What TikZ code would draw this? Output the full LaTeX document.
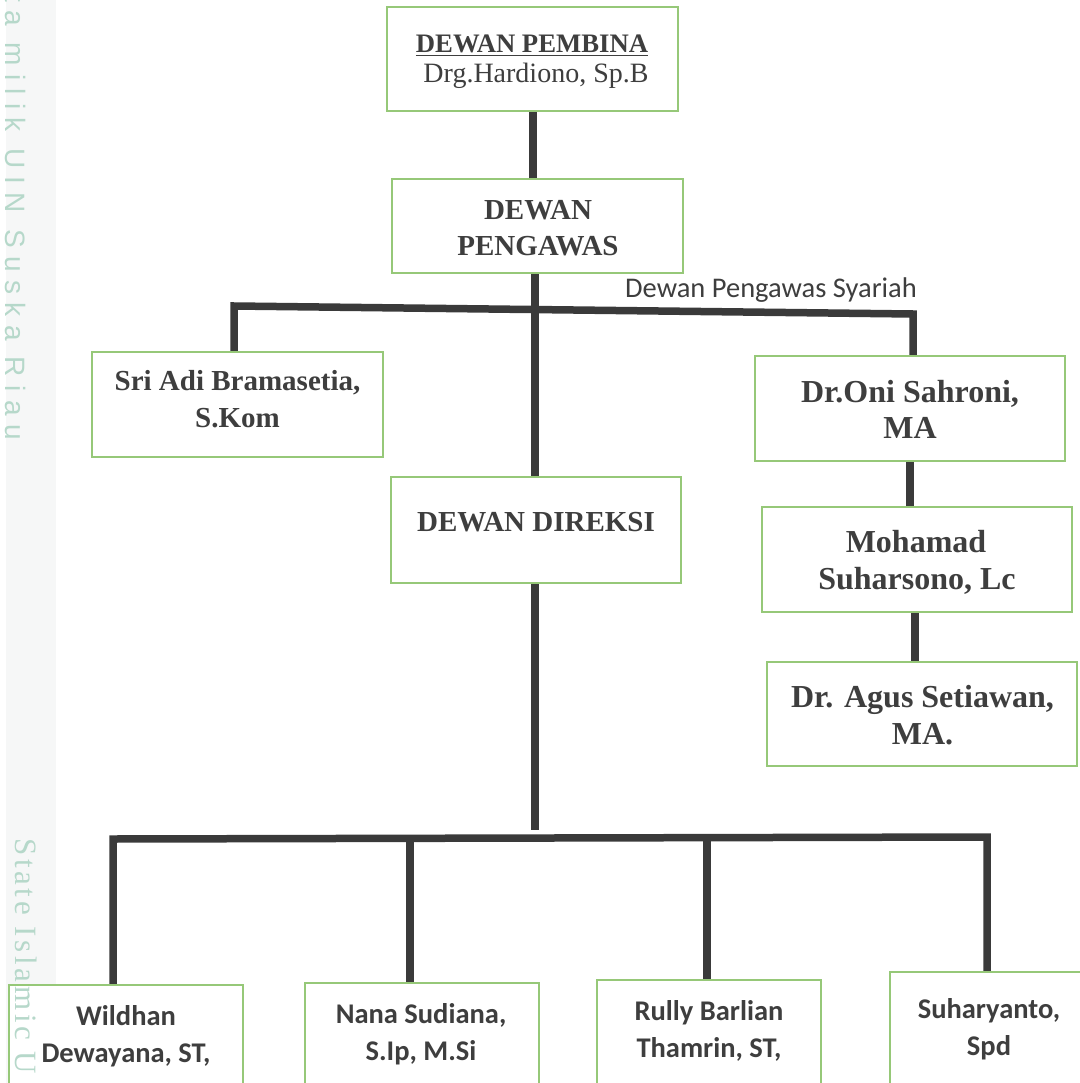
\documentclass[tikz,border=0pt]{standalone}
\usepackage{fontspec}
\setmainfont{Liberation Serif}
\newfontfamily\calib{Carlito}
\newfontfamily\wmsans{Liberation Sans}
\usetikzlibrary{calc}
\definecolor{boxgreen}{RGB}{150,200,120}
\definecolor{linegray}{RGB}{58,58,58}
\definecolor{txtgray}{RGB}{62,62,62}
\definecolor{wmgreen}{RGB}{182,216,202}
\definecolor{stripgray}{RGB}{246,247,247}
\begin{document}
\begin{tikzpicture}[x=1pt,y=-1pt,
  orgbox/.style={draw=boxgreen,line width=2.5pt,fill=white,rectangle,inner sep=0pt},
  conn/.style={draw=linegray,line width=7.5pt,line join=miter},
  ser/.style={font=\fontsize{29}{33}\selectfont\bfseries,text=txtgray,anchor=base,inner sep=0pt},
  serbig/.style={font=\fontsize{32}{36}\selectfont\bfseries,text=txtgray,anchor=base,inner sep=0pt},
  cal/.style={font=\calib\fontsize{28.5}{32}\selectfont\bfseries,text=txtgray,anchor=base,inner sep=0pt},
  wm/.style={text=wmgreen,inner sep=0pt}]
\useasboundingbox (0,0) rectangle (1079,1083);
\fill[stripgray] (6,0) rectangle (56,1083);

% boxes
\node[orgbox,minimum width=291,minimum height=104] (pembina) at (532.5,59) {};
\node[orgbox,minimum width=291,minimum height=94] (pengawas) at (537.5,226) {};
\node[orgbox,minimum width=291,minimum height=105] (sri) at (237.5,404.5) {};
\node[orgbox,minimum width=310,minimum height=105] (oni) at (910,408.5) {};
\node[orgbox,minimum width=310,minimum height=105] (moh) at (917,559.5) {};
\node[orgbox,minimum width=310,minimum height=104] (agus) at (922,714) {};
\node[orgbox,minimum width=290,minimum height=106] (direksi) at (536,530) {};
\node[orgbox,minimum width=234,minimum height=150] (wild) at (126,1060) {};
\node[orgbox,minimum width=234,minimum height=150] (nana) at (422,1058) {};
\node[orgbox,minimum width=224,minimum height=150] (rully) at (709,1055) {};
\node[orgbox,minimum width=198,minimum height=150] (suhar) at (989,1047) {};

% connectors
\coordinate (barL) at (234,306);
\coordinate (barR) at (913,314);
\coordinate (dirend) at (535,830);
\coordinate (bL) at (113,839);
\coordinate (bR) at (987,837);
\draw[conn] (pembina.south -| 533,0) -- (pengawas.north -| 533,0);
\draw[conn] (pengawas.south -| 535,0) -- (direksi.north -| 535,0);
\draw[conn] (barL |- sri.north) -- (barL) -- (barR) -- (barR |- oni.north);
\draw[conn] (oni.south -| 910,0) -- (moh.north -| 910,0);
\draw[conn] (moh.south -| 915,0) -- (agus.north -| 915,0);
\draw[conn] (direksi.south -| dirend) -- (dirend);
\draw[conn] (bL |- wild.north) -- (bL) -- (bR) -- (bR |- suhar.north);
\draw[conn] (410,838) -- (nana.north -| 410,0);
\draw[conn] (707,838) -- (rully.north -| 707,0);

% texts
\node[font=\fontsize{26.7}{30}\selectfont\bfseries,text=txtgray,anchor=base,inner sep=0pt] (t1a) at (532,53) {\underline{DEWAN PEMBINA}};
\node[font=\fontsize{28}{30}\selectfont,text=txtgray,anchor=base,inner sep=0pt] (t1b) at (536,83) {Drg.Hardiono, Sp.B};
\node[ser] (t2a) at (538,220) {DEWAN};
\node[ser] (t2b) at (538,255) {PENGAWAS};
\node[font=\calib\fontsize{28.5}{30}\selectfont,text=txtgray,anchor=base,inner sep=0pt] (dps) at (771,297) {Dewan Pengawas Syariah};
\node[ser] (t3a) at (237.5,390) {Sri Adi Bramasetia,};
\node[ser] (t3b) at (237.5,427) {S.Kom};
\node[serbig] (t4a) at (910,402) {Dr.Oni Sahroni,};
\node[serbig] (t4b) at (910,438) {MA};
\node[serbig] (t5a) at (916,552) {Mohamad};
\node[serbig] (t5b) at (917,589) {Suharsono, Lc};
\node[serbig] (t6a) at (922.5,707) {Dr. Agus Setiawan,};
\node[serbig] (t6b) at (922.5,744) {MA.};
\node[ser] (t7) at (536,531) {DEWAN DIREKSI};
\node[cal] (t8a) at (126,1025) {Wildhan};
\node[cal] (t8b) at (126,1062) {Dewayana, ST,};
\node[cal] (t9a) at (421,1023) {Nana Sudiana,};
\node[cal] (t9b) at (421,1060) {S.Ip, M.Si};
\node[cal] (t10a) at (709,1020) {Rully Barlian};
\node[cal] (t10b) at (709,1057) {Thamrin, ST,};
\node[cal] (t11a) at (989,1018) {Suharyanto,};
\node[cal] (t11b) at (989,1055) {Spd};

% watermark side texts (over the drawing)
\node[wm,rotate=-90,anchor=east,font=\wmsans\fontsize{28}{28}\selectfont\addfontfeatures{LetterSpace=30}] (wm1) at (16,440) {ta milik UIN Suska Riau};
\node[wm,rotate=-90,anchor=west,font=\fontsize{31}{31}\selectfont\addfontfeatures{LetterSpace=12}] (wm2) at (26,838) {State Islamic U};
\end{tikzpicture}
\end{document}
